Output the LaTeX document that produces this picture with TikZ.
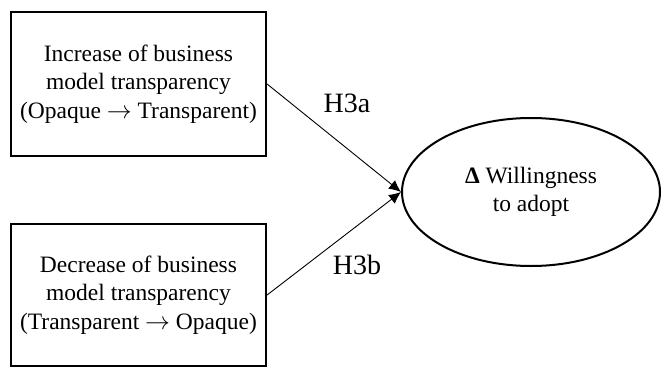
\documentclass[tikz,border=0pt]{standalone}
\usepackage{fontspec}
\setmainfont{Liberation Serif}
\usetikzlibrary{shapes.geometric,arrows.meta}
\begin{document}
\begin{tikzpicture}[x=1pt,y=-1pt,
  boxnode/.style={draw,line width=2.2pt,inner sep=0pt,minimum width=255pt,align=center,
    font=\fontsize{23.5}{28.5}\selectfont},
  ellnode/.style={draw,ellipse,line width=2pt,inner sep=0pt,minimum width=258pt,minimum height=148pt,
    align=center,font=\fontsize{23.5}{28.5}\selectfont},
  link/.style={line width=0.9pt,-{Latex[length=12pt,width=11pt]}},
  hlabel/.style={font=\fontsize{28}{30}\selectfont,inner sep=0pt}]
\useasboundingbox (0,0) rectangle (662,367);
\node[boxnode,minimum height=144pt] (inc) at (138.5,84) {Increase of business\\model transparency\\(Opaque \(\rightarrow\) Transparent)};
\node[boxnode,minimum height=142pt] (dec) at (138.5,295) {Decrease of business\\model transparency\\(Transparent \(\rightarrow\) Opaque)};
\node[ellnode] (wil) at (531,192) {\textbf{Δ} Willingness\\to adopt};
\draw[link] (inc.east) -- (wil.west);
\draw[link] (dec.east) -- (wil.west);
\node[hlabel] (ha) at (347,103) {H3a};
\node[hlabel] (hb) at (357,265) {H3b};
\end{tikzpicture}
\end{document}
